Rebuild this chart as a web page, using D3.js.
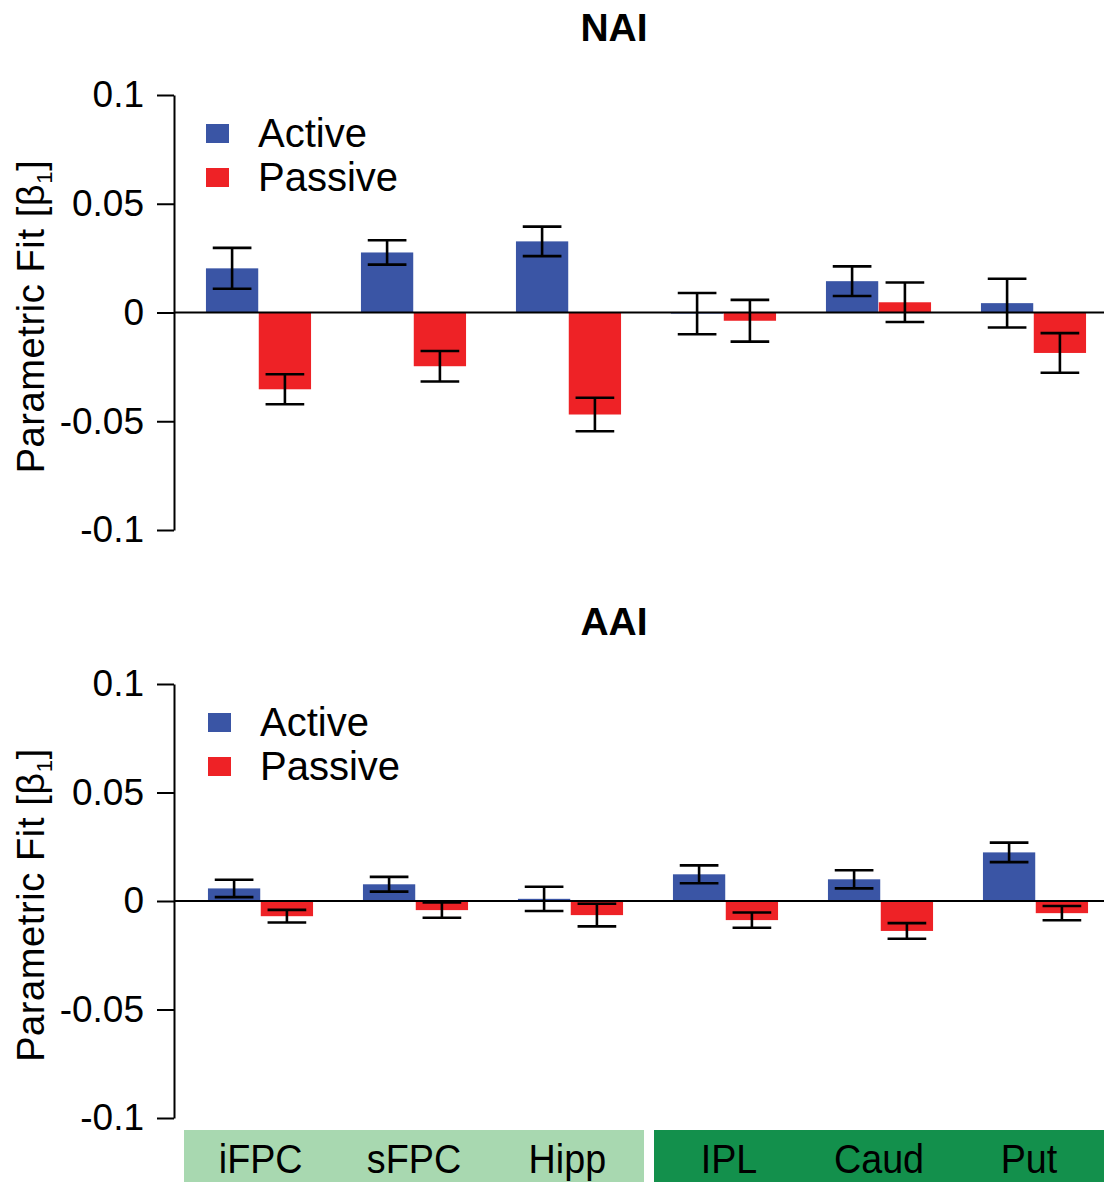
<!DOCTYPE html>
<html>
<head>
<meta charset="utf-8">
<script src="https://cdn.jsdelivr.net/npm/d3@7"></script>
<style>
    body { margin: 0; background: white; }
    text { font-family: "Liberation Sans", Arial, Helvetica, sans-serif; fill: black; }
</style>
</head>
<body>
<svg id="chart-container" width="1104" height="1182"></svg>
<script>
// brain regions, left group = light green, right group = dark green
var regions = ["iFPC", "sFPC", "Hipp", "IPL", "Caud", "Put"];
var series = ["Active", "Passive"];
var yTicks = [-0.1, -0.05, 0, 0.05, 0.1];

// NAI panel (beta values and error half-widths)
var naiActive = [0.0203, 0.0276, 0.0327, -0.0005, 0.0144, 0.0043];
var naiActiveErr = [0.0094, 0.0056, 0.0068, 0.0095, 0.0068, 0.0112];
var naiPassive = [-0.0353, -0.0247, -0.0469, -0.0038, 0.0047, -0.0186];
var naiPassiveErr = [0.0069, 0.0070, 0.0077, 0.0096, 0.0091, 0.0091];

// AAI panel
var aaiActive = [0.0058, 0.0077, 0.0010, 0.0123, 0.0100, 0.0224];
var aaiActiveErr = [0.0040, 0.0034, 0.0056, 0.0041, 0.0042, 0.0045];
var aaiPassive = [-0.0070, -0.0042, -0.0065, -0.0088, -0.0138, -0.0056];
var aaiPassiveErr = [0.0029, 0.0035, 0.0052, 0.0035, 0.0036, 0.0033];

var colors = { Active: "#3a55a5", Passive: "#ee2226" };

var svg = d3.select("#chart-container");

function draw_panel(title, active, activeErr, passive, passiveErr, top, bottom, left, titleY, shift) {
    var rows = regions.map((r, i) => ({
        region: r,
        bars: [
            { key: "Active", value: active[i], err: activeErr[i] },
            { key: "Passive", value: passive[i], err: passiveErr[i] }
        ]
    }));

    var y = d3.scaleLinear().domain([-0.1, 0.1]).range([bottom, top]);

    var x = d3.scaleBand()
        .domain(regions)
        .range([left + 7 + shift, 1111 + shift])
        .paddingInner(0.322)
        .paddingOuter(0.161);

    var xs = d3.scaleBand()
        .domain(series)
        .range([0, x.bandwidth()])
        .paddingInner(0.01);

    var g = svg.append("g");

    // title
    g.append("text")
        .attr("x", 614)
        .attr("y", titleY)
        .attr("text-anchor", "middle")
        .attr("font-size", 39)
        .attr("font-weight", "bold")
        .text(title);

    // y axis
    var yAxis = d3.axisLeft(y)
        .tickValues(yTicks)
        .tickFormat(d => String(d))
        .tickSize(17)
        .tickSizeOuter(0)
        .tickPadding(13);

    var ax = g.append("g")
        .attr("transform", `translate(${left},0)`)
        .call(yAxis);
    ax.select(".domain").attr("stroke-width", 2);
    ax.selectAll(".tick line").attr("stroke-width", 2);
    ax.selectAll(".tick text")
        .attr("font-size", 37)
        .attr("font-family", "Liberation Sans, Arial, sans-serif")
        .attr("fill", "black");

    // y axis label
    var label = g.append("text")
        .attr("transform", `translate(44, ${(top + bottom) / 2 + 4}) rotate(-90)`)
        .attr("text-anchor", "middle")
        .attr("font-size", 38)
        .attr("letter-spacing", 0.6);
    label.append("tspan").text("Parametric Fit [β");
    label.append("tspan").attr("font-size", 22).attr("dy", 8).text("1");
    label.append("tspan").attr("dy", -8).text("]");

    // bars
    var groups = g.append("g")
        .selectAll("g")
        .data(rows)
        .join("g")
        .attr("transform", d => `translate(${x(d.region)},0)`);

    groups.selectAll("rect")
        .data(d => d.bars)
        .join("rect")
        .attr("x", d => xs(d.key))
        .attr("width", xs.bandwidth())
        .attr("y", d => y(Math.max(0, d.value)))
        .attr("height", d => Math.abs(y(d.value) - y(0)))
        .attr("fill", d => colors[d.key]);

    // zero line
    g.append("line")
        .attr("x1", left)
        .attr("x2", 1104)
        .attr("y1", y(0))
        .attr("y2", y(0))
        .attr("stroke", "black")
        .attr("stroke-width", 2.2);

    // error bars
    var capW = xs.bandwidth() * 0.37;
    var errs = groups.selectAll("g.err")
        .data(d => d.bars)
        .join("g")
        .attr("class", "err")
        .attr("transform", d => `translate(${xs(d.key) + xs.bandwidth() / 2},0)`)
        .attr("stroke", "black")
        .attr("stroke-width", 2.6);

    errs.append("line")
        .attr("y1", d => y(d.value + d.err))
        .attr("y2", d => y(d.value - d.err));
    errs.append("line")
        .attr("x1", -capW).attr("x2", capW)
        .attr("y1", d => y(d.value + d.err))
        .attr("y2", d => y(d.value + d.err));
    errs.append("line")
        .attr("x1", -capW).attr("x2", capW)
        .attr("y1", d => y(d.value - d.err))
        .attr("y2", d => y(d.value - d.err));

    // legend
    var legend = g.append("g")
        .attr("transform", `translate(${206 + shift}, ${top + 29})`);
    series.forEach((s, i) => {
        legend.append("rect")
            .attr("x", 0)
            .attr("y", i * 44)
            .attr("width", 23)
            .attr("height", 19)
            .attr("fill", colors[s]);
        legend.append("text")
            .attr("x", 52)
            .attr("y", i * 44 + 23)
            .attr("font-size", 40)
            .text(s);
    });
}

draw_panel("NAI", naiActive, naiActiveErr, naiPassive, naiPassiveErr, 95, 530, 174, 41, 0);
draw_panel("AAI", aaiActive, aaiActiveErr, aaiPassive, aaiPassiveErr, 684, 1118, 174, 635, 2);

// region bands under the lower panel
var bands = [
    { names: regions.slice(0, 3), x0: 184, x1: 644, fill: "#a8d8b0" },
    { names: regions.slice(3), x0: 654, x1: 1104, fill: "#13904c" }
];
bands.forEach(b => {
    svg.append("rect")
        .attr("x", b.x0)
        .attr("y", 1130)
        .attr("width", b.x1 - b.x0)
        .attr("height", 52)
        .attr("fill", b.fill);
    var bx = d3.scaleBand().domain(b.names).range([b.x0, b.x1]);
    b.names.forEach(n => {
        svg.append("text")
            .attr("transform", `translate(${bx(n) + bx.bandwidth() / 2}, 1173) scale(0.92,1)`)
            .attr("text-anchor", "middle")
            .attr("font-size", 41)
            .text(n);
    });
});
</script>
</body>
</html>
